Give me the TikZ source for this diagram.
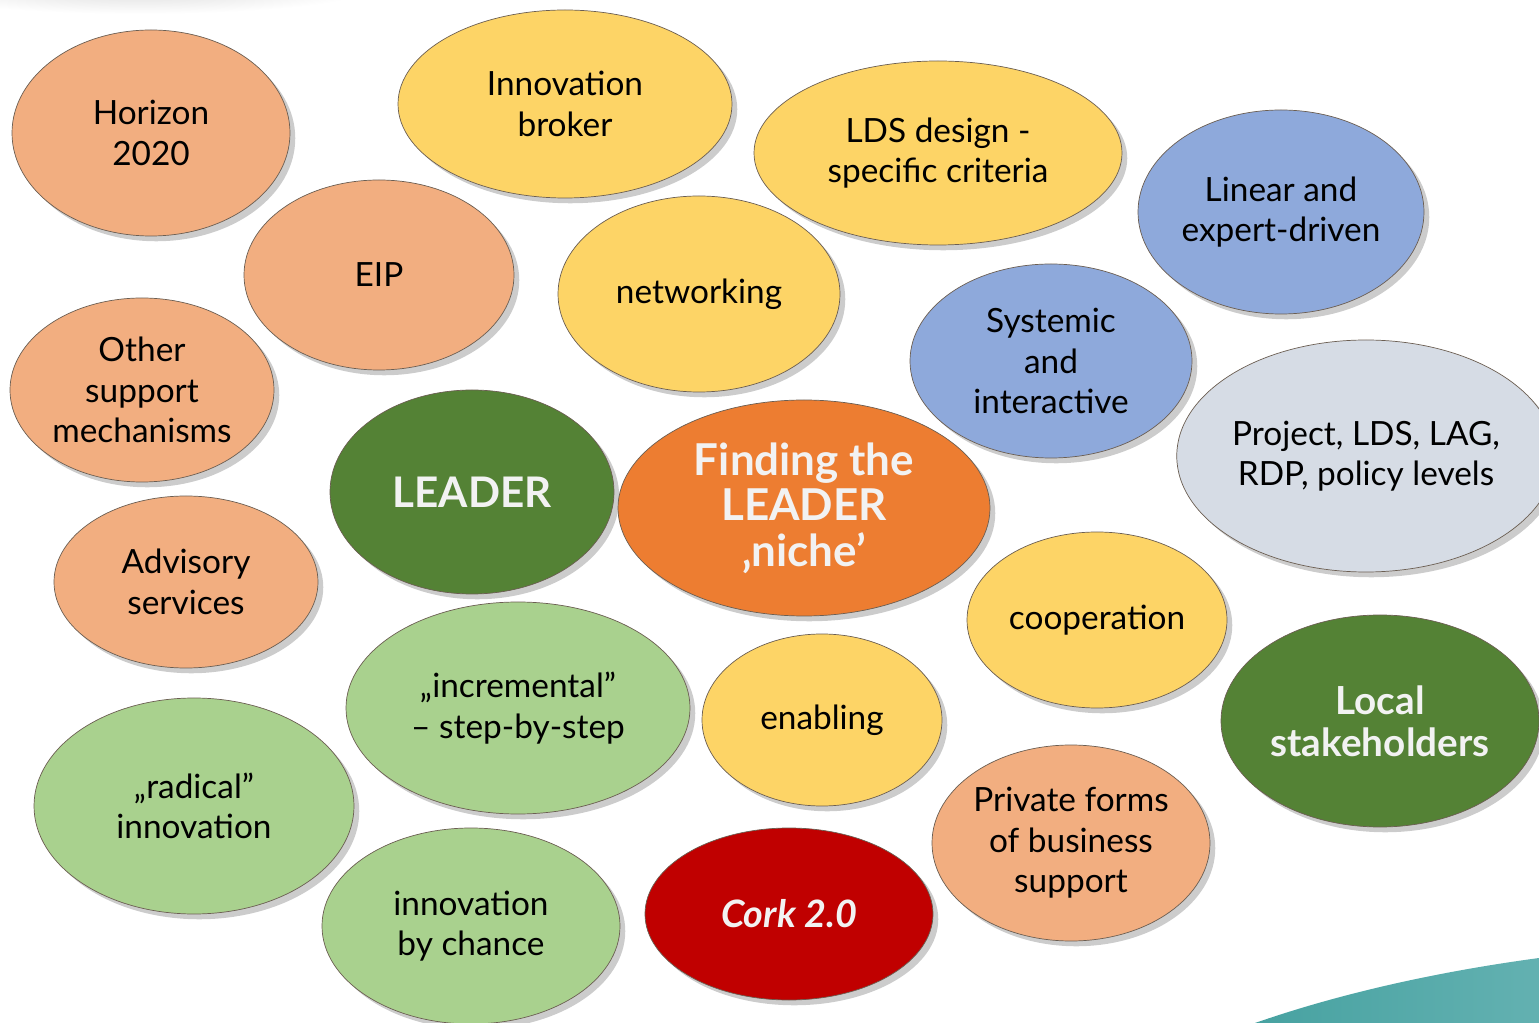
\documentclass[tikz,border=0pt]{standalone}
\usepackage{fontspec}
\setmainfont{Lato}
\usetikzlibrary{shapes.geometric,shadows}
\definecolor{peach}{HTML}{F2AE80}
\definecolor{sun}{HTML}{FDD466}
\definecolor{sky}{HTML}{8EA9DB}
\definecolor{mist}{HTML}{D6DCE5}
\definecolor{forest}{HTML}{548235}
\definecolor{tangerine}{HTML}{ED7D31}
\definecolor{leaf}{HTML}{A9D18E}
\definecolor{crimson}{HTML}{C00000}
\definecolor{teal1}{HTML}{47A2A1}
\definecolor{teal2}{HTML}{63B1B1}
\definecolor{rim}{HTML}{6B5E52}
\begin{document}
\begin{tikzpicture}[x=0.02cm, y=-0.02cm,
    bubble/.style={ellipse, draw=rim, thin, inner sep=0pt, align=center,
        font=\fontsize{19}{23}\selectfont,
        drop shadow={shadow xshift=3pt, shadow yshift=-3pt, opacity=0.2, fill=black}},
    bsize/.style 2 args={minimum width=#1*0.02cm, minimum height=#2*0.02cm},
    peachnode/.style={bubble, fill=peach},
    sunnode/.style={bubble, fill=sun},
    skynode/.style={bubble, fill=sky},
    mistnode/.style={bubble, fill=mist},
    leafnode/.style={bubble, fill=leaf},
    boldnode/.style={bubble, text=white!95!black, font=\fontsize{22}{24}\bfseries\selectfont}]

        \useasboundingbox (0,0) rectangle (1539,1023);

        % faint shade at the top edge and teal swoosh
        \shade[inner color=black!14, outer color=white] (140,-12) ellipse (230 and 26);
        \shade[left color=teal1, right color=teal2] (1255,1023) .. controls (1350,990) and (1450,970) .. (1539,958) -- (1539,1023) -- cycle;

        % peach
        \node[peachnode, bsize={278}{206}] (horizon) at (151,133) {Horizon\\2020};
        \node[peachnode, bsize={270}{190}] (eip) at (379,275) {EIP};
        \node[peachnode, bsize={264}{184}] (other) at (142,390) {Other\\support\\mechanisms};
        \node[peachnode, bsize={264}{172}] (advisory) at (186,582) {Advisory\\services};
        \node[peachnode, bsize={278}{196}] (private) at (1071,843) {Private forms\\of business\\support};

        % yellow
        \node[sunnode, bsize={334}{188}] (broker) at (565,104) {Innovation\\broker};
        \node[sunnode, bsize={368}{184}] (lds) at (938,153) {LDS design -\\specific criteria};
        \node[sunnode, bsize={282}{196}] (networking) at (699,294) {networking};
        \node[sunnode, bsize={260}{176}] (cooperation) at (1097,620) {cooperation};
        \node[sunnode, bsize={240}{172}] (enabling) at (822,720) {enabling};

        % blue and grey
        \node[skynode, bsize={286}{204}] (linear) at (1281,212) {Linear and\\expert-driven};
        \node[skynode, bsize={282}{194}] (systemic) at (1051,361) {Systemic\\and\\interactive};
        \node[mistnode, bsize={356}{232}] (levels) at (1366,456) {Project, LDS, LAG,\\RDP, policy levels};

        % green
        \node[leafnode, bsize={344}{212}] (incremental) at (518,708) {„incremental”\\– step-by-step};
        \node[leafnode, bsize={320}{216}] (radical) at (194,806) {„radical”\\innovation};
        \node[leafnode, bsize={298}{196}] (chance) at (471,926) {innovation\\by chance};

        % bold ones
        \node[boldnode, fill=forest, bsize={284}{204}, font=\fontsize{24}{26}\bfseries\selectfont] (leader) at (472,492) {LEADER};
        \node[boldnode, fill=tangerine, bsize={372}{216}, font=\fontsize{25}{26}\bfseries\selectfont] (niche) at (804,508) {Finding the\\LEADER\\‚niche’};
        \node[boldnode, fill=forest, bsize={318}{212}] (local) at (1380,721) {Local\\stakeholders};
        \node[boldnode, fill=crimson, bsize={288}{172}, font=\fontsize{21.5}{24}\bfseries\itshape\selectfont] (cork) at (789,914) {Cork 2.0};

\end{tikzpicture}
\end{document}
